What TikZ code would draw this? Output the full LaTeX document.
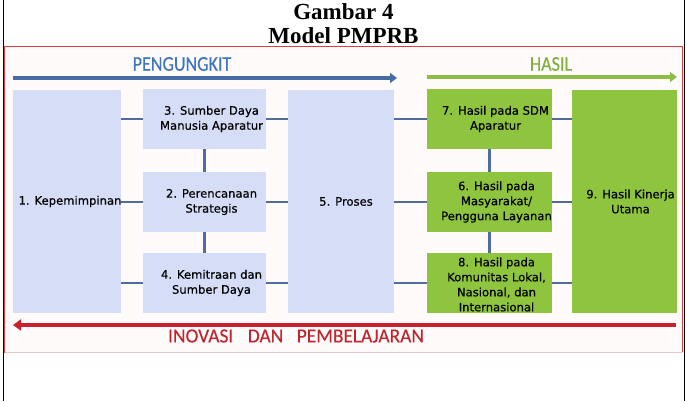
\documentclass[tikz,border=0pt]{standalone}
\usepackage{fontspec}
\setmainfont{Liberation Serif}
\newfontfamily\boxfont{DejaVu Sans}[FakeBold=0.4]
\newfontfamily\headfont{Carlito}[FakeBold=0.3]
\usetikzlibrary{arrows.meta}
\definecolor{boxblue}{RGB}{214,221,246}
\definecolor{boxgreen}{RGB}{143,197,62}
\definecolor{linecol}{RGB}{80,108,156}
\definecolor{arrowblue}{RGB}{70,108,166}
\definecolor{arrowgreen}{RGB}{140,190,70}
\definecolor{arrowred}{RGB}{200,32,46}
\definecolor{headblue}{RGB}{62,118,190}
\definecolor{headgreen}{RGB}{128,176,62}
\definecolor{headred}{RGB}{192,38,46}
\definecolor{framered}{RGB}{226,60,64}
\definecolor{framepale}{RGB}{232,200,202}
\definecolor{framefill}{RGB}{255,251,251}
\tikzset{
  box/.style={draw=none, inner sep=0pt, minimum width=#1},
  tallbox/.style={minimum height=223pt},
  shortbox/.style={minimum height=60pt},
  lightbox/.style={fill=boxblue},
  greenbox/.style={fill=boxgreen},
  btext/.style={font=\boxfont\fontsize{11.6}{15}\selectfont, align=center, text=black, inner sep=0pt},
  conn/.style={draw=linecol, line width=2.8pt},
  head/.style={font=\headfont\fontsize{21}{21}\selectfont, xscale=0.86, inner sep=0pt},
  foot/.style={font=\headfont\fontsize{20}{20}\selectfont, xscale=0.97, inner sep=0pt},
  titletext/.style={font=\bfseries\fontsize{23}{23}\selectfont, anchor=base, inner sep=0pt}
}
\begin{document}
\begin{tikzpicture}[x=1pt,y=-1pt]
\useasboundingbox (0,0) rectangle (687,401);
% frames
\draw[framered, line width=1pt, fill=framefill] (4.5,47) rectangle (682.5,352.5);
\draw[framepale, line width=1pt] (4.5,352.5) -- (682.5,352.5);
\draw[black, line width=1.3pt] (3.3,0) -- (3.3,401);
\draw[black, line width=1.3pt] (684.2,0) -- (684.2,401);
% title
\node[titletext] (title1) at (343.5,20) {Gambar 4};
\node[titletext] (title2) at (343.5,43.5) {Model PMPRB};
% headers and arrows
\node[head, text=headblue] (hp) at (182,64) {PENGUNGKIT};
\node[head, text=headgreen] (hh) at (551,64) {HASIL};
\coordinate (pa) at (13,78);
\coordinate (pb) at (397,78);
\draw[arrowblue, line width=3.6pt, -{Triangle[length=7pt,width=10pt]}] (pa) -- (pb);
\coordinate (ga) at (427,77);
\coordinate (gb) at (677,77);
\draw[arrowgreen, line width=3.6pt, -{Triangle[length=7pt,width=10pt]}] (ga) -- (gb);
\coordinate (ra) at (676,325);
\coordinate (rb) at (13,325);
\draw[arrowred, line width=4.6pt, -{Triangle[length=8pt,width=11pt]}] (ra) -- (rb);
\node[foot, text=headred] (hi) at (296,336) {INOVASI\hspace{15pt}DAN\hspace{14pt}PEMBELAJARAN};
% boxes
\node[box=108pt, tallbox, lightbox] (b1) at (67,201.5) {};
\node[box=123pt, shortbox, lightbox] (b3) at (204.5,119) {};
\node[box=123pt, shortbox, lightbox] (b2) at (204.5,202) {};
\node[box=123pt, shortbox, lightbox] (b4) at (204.5,283) {};
\node[box=106pt, tallbox, lightbox] (b5) at (341,201.5) {};
\node[box=125pt, shortbox, greenbox] (b7) at (489.5,119) {};
\node[box=125pt, shortbox, greenbox] (b6) at (489.5,202) {};
\node[box=125pt, shortbox, greenbox] (b8) at (489.5,283) {};
\node[box=105pt, tallbox, greenbox] (b9) at (624.5,201.5) {};
% connectors
\draw[conn] (b1.east |- b3.west) -- (b3.west);
\draw[conn] (b1.east |- b2.west) -- (b2.west);
\draw[conn] (b1.east |- b4.west) -- (b4.west);
\draw[conn] (b3.east) -- (b3.east -| b5.west);
\draw[conn] (b2.east) -- (b2.east -| b5.west);
\draw[conn] (b4.east) -- (b4.east -| b5.west);
\draw[conn] (b3.south) -- (b2.north);
\draw[conn] (b2.south) -- (b4.north);
\draw[conn] (b5.east |- b7.west) -- (b7.west);
\draw[conn] (b5.east |- b6.west) -- (b6.west);
\draw[conn] (b5.east |- b8.west) -- (b8.west);
\draw[conn] (b7.east) -- (b7.east -| b9.west);
\draw[conn] (b6.east) -- (b6.east -| b9.west);
\draw[conn] (b8.east) -- (b8.east -| b9.west);
\draw[conn] (b7.south) -- (b6.north);
\draw[conn] (b6.south) -- (b8.north);
% texts
\node[btext] (t1) at ([xshift=3pt]b1.center) {1. Kepemimpinan};
\node[btext] (t3) at ([xshift=7pt]b3.center) {3. Sumber Daya\\Manusia Aparatur};
\node[btext] (t2) at ([xshift=7pt]b2.center) {2. Perencanaan\\Strategis};
\node[btext] (t4) at ([xshift=7pt]b4.center) {4. Kemitraan dan\\Sumber Daya};
\node[btext] (t5) at ([xshift=5pt]b5.center) {5. Proses};
\node[btext] (t7) at ([xshift=6pt]b7.center) {7. Hasil pada SDM\\Aparatur};
\node[btext] (t6) at ([xshift=7pt]b6.center) {6. Hasil pada\\Masyarakat/\\Pengguna Layanan};
\node[btext] (t8) at ([xshift=7pt,yshift=-1.5pt]b8.center) {8. Hasil pada\\Komunitas Lokal,\\Nasional, dan\\Internasional};
\node[btext] (t9) at ([xshift=6pt]b9.center) {9. Hasil Kinerja\\Utama};
\end{tikzpicture}
\end{document}
